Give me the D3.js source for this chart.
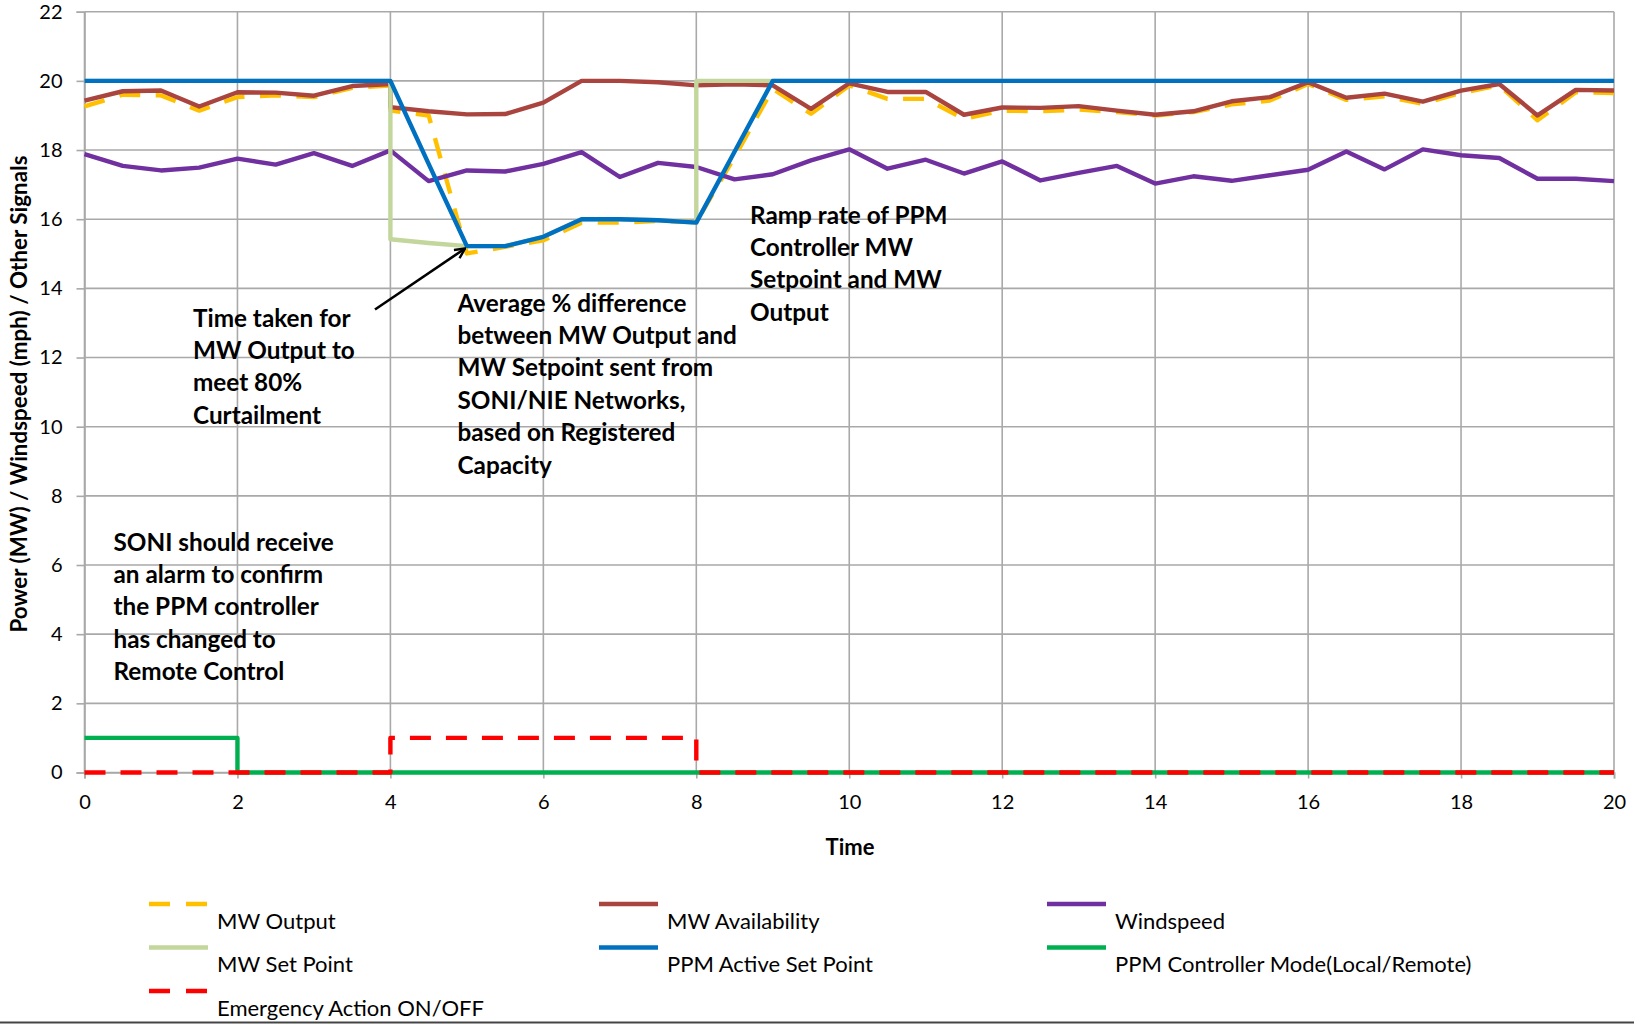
<!DOCTYPE html>
<html>
<head>
<meta charset="utf-8">
<script src="https://cdn.jsdelivr.net/npm/d3@7"></script>
<style>
  html, body { margin: 0; padding: 0; background: #fff; }
  svg { display: block; font-family: Lato, "Open Sans", sans-serif; }
</style>
</head>
<body>
<svg id="chart" width="1634" height="1024"></svg>
<script>
// ---- Data ----
const time = [0, 0.5, 1, 1.5, 2, 2.5, 3, 3.5, 4, 4, 4.5, 5, 5.5, 6, 6.5, 7, 7.5, 8, 8, 8.5, 9, 9.5, 10,
  10.5, 11, 11.5, 12, 12.5, 13, 13.5, 14, 14.5, 15, 15.5, 16, 16.5, 17, 17.5, 18, 18.5, 19, 19.5, 20];

const mwOutput = [19.26, 19.6, 19.58, 19.14, 19.53, 19.58, 19.53, 19.8, 19.87, 19.14, 19.0, 15.01, 15.2, 15.39,
  15.9, 15.9, 15.95, 15.92, 15.92, 17.8, 19.77, 19.05, 19.87, 19.48, 19.48, 18.9, 19.14, 19.12, 19.17,
  19.1, 19.0, 19.1, 19.32, 19.43, 19.91, 19.45, 19.55, 19.34, 19.65, 19.87, 18.86, 19.67, 19.65];

const mwAvailability = [19.43, 19.7, 19.72, 19.26, 19.67, 19.66, 19.57, 19.85, 19.91, 19.24, 19.12, 19.03, 19.04,
  19.37, 20.0, 20.0, 19.96, 19.87, 19.87, 19.9, 19.87, 19.19, 19.93, 19.68, 19.68, 19.02, 19.23, 19.22,
  19.27, 19.14, 19.02, 19.12, 19.41, 19.53, 19.96, 19.51, 19.63, 19.4, 19.72, 19.91, 19.0, 19.74, 19.72];

const windspeed = [17.88, 17.54, 17.41, 17.49, 17.75, 17.58, 17.91, 17.54, 17.99, 17.99, 17.1, 17.41, 17.38,
  17.6, 17.94, 17.22, 17.63, 17.51, 17.51, 17.15, 17.3, 17.7, 18.02, 17.46, 17.72, 17.32, 17.67, 17.12,
  17.34, 17.54, 17.03, 17.24, 17.11, 17.27, 17.43, 17.96, 17.44, 18.02, 17.85, 17.77, 17.17, 17.17, 17.1];

const mwSetPoint = [20, 20, 20, 20, 20, 20, 20, 20, 20, 15.42, 15.31, 15.22, 15.22, 15.49, 16.0, 16.0, 15.97,
  15.9, 20, 20, 20, 20, 20, 20, 20, 20, 20, 20, 20, 20, 20, 20, 20, 20, 20, 20, 20, 20, 20, 20, 20, 20, 20];

const ppmActiveSetPoint = [20, 20, 20, 20, 20, 20, 20, 20, 20, 20, 17.6, 15.22, 15.22, 15.49, 16.0, 16.0, 15.97,
  15.9, 15.9, 17.95, 20, 20, 20, 20, 20, 20, 20, 20, 20, 20, 20, 20, 20, 20, 20, 20, 20, 20, 20, 20, 20, 20, 20];

const modeTime = [0, 2, 2, 20];
const controllerMode = [1, 1, 0, 0];

const emergencyTime = [0, 4, 4, 8, 8, 20];
const emergencyAction = [0, 0, 1, 1, 0, 0];

const xTicks = [0, 2, 4, 6, 8, 10, 12, 14, 16, 18, 20];
const yTicks = [0, 2, 4, 6, 8, 10, 12, 14, 16, 18, 20, 22];

const seriesNames = ["MW Output", "MW Availability", "Windspeed", "MW Set Point",
  "PPM Active Set Point", "PPM Controller Mode(Local/Remote)", "Emergency Action ON/OFF"];

const annotations = [
  { lines: ["Time taken for", "MW Output to", "meet 80%", "Curtailment"], x: 193, y: 318 },
  { lines: ["Average % difference", "between MW Output and", "MW Setpoint sent from", "SONI/NIE Networks,", "based on Registered", "Capacity"], x: 457.5, y: 303 },
  { lines: ["Ramp rate of PPM", "Controller MW", "Setpoint and MW", "Output"], x: 750, y: 215 },
  { lines: ["SONI should receive", "an alarm to confirm", "the PPM controller", "has changed to", "Remote Control"], x: 113.5, y: 542 }
];

// ---- Setup ----
const svg = d3.select("#chart");
const x = d3.scaleLinear().domain([0, 20]).range([84.5, 1614]);
const y = d3.scaleLinear().domain([0, 22]).range([772.5, 11.7]);
const gridColor = "#a9a9a9";

// gridlines
svg.append("g").selectAll("line.h").data(yTicks).join("line")
  .attr("x1", x(0)).attr("x2", x(20)).attr("y1", d => y(d)).attr("y2", d => y(d))
  .attr("stroke", gridColor).attr("stroke-width", 1.6);
svg.append("g").selectAll("line.v").data(xTicks).join("line")
  .attr("y1", y(0)).attr("y2", y(22)).attr("x1", d => x(d)).attr("x2", d => x(d))
  .attr("stroke", gridColor).attr("stroke-width", 1.6);

// axes
const yAxis = svg.append("g").attr("transform", `translate(${x(0)},0)`)
  .call(d3.axisLeft(y).tickValues(yTicks).tickSize(8).tickPadding(14));
const xAxis = svg.append("g").attr("transform", `translate(0,${y(0)})`)
  .call(d3.axisBottom(x).tickValues(xTicks).tickSize(6).tickPadding(16));
[yAxis, xAxis].forEach(a => {
  a.select(".domain").attr("stroke", gridColor).attr("stroke-width", 1.6);
  a.selectAll(".tick line").attr("stroke", gridColor).attr("stroke-width", 1.6);
  a.selectAll(".tick text").attr("fill", "#000").style("font-size", "20px").style("font-family", "Lato, sans-serif");
});

// series
const lineGen = d3.line().x(d => x(d[0])).y(d => y(d[1]));
const zip = (t, v) => t.map((tt, i) => [tt, v[i]]);
const series = [
  { data: zip(time, mwOutput), color: "#FFC000", dash: "21,15.5" },
  { data: zip(time, mwAvailability), color: "#A9443F", dash: null },
  { data: zip(time, windspeed), color: "#7030A0", dash: null },
  { data: zip(time, mwSetPoint), color: "#C3D69B", dash: null },
  { data: zip(time, ppmActiveSetPoint), color: "#0070C0", dash: null },
  { data: zip(modeTime, controllerMode), color: "#00B050", dash: null },
  { data: zip(emergencyTime, emergencyAction), color: "#FF0000", dash: "21,15" }
];
series.forEach(s => {
  svg.append("path").datum(s.data)
    .attr("d", lineGen)
    .attr("fill", "none")
    .attr("stroke", s.color)
    .attr("stroke-width", 4.4)
    .attr("stroke-linejoin", "round")
    .attr("stroke-dasharray", s.dash);
});

// axis titles
svg.append("text").attr("x", 850).attr("y", 847).attr("dy", "0.35em")
  .attr("text-anchor", "middle").style("font-weight", "bold").style("font-size", "22px")
  .text("Time");
svg.append("text").attr("transform", "translate(19,394) rotate(-90)").attr("dy", "0.35em")
  .attr("text-anchor", "middle").style("font-weight", "bold").style("font-size", "22.4px")
  .text("Power (MW) / Windspeed (mph) / Other Signals");

// annotations
annotations.forEach(a => {
  const t = svg.append("text").style("font-weight", "bold").style("font-size", "24.3px");
  a.lines.forEach((l, i) => {
    t.append("tspan").attr("x", a.x).attr("y", a.y + i * 32.4).attr("dy", "0.35em").text(l);
  });
});

// arrow
svg.append("defs").append("marker").attr("id", "arrow")
  .attr("viewBox", "0 0 12 12").attr("refX", 11).attr("refY", 6)
  .attr("markerWidth", 12).attr("markerHeight", 12).attr("markerUnits", "userSpaceOnUse")
  .attr("orient", "auto")
  .append("path").attr("d", "M1,1 L11,6 L1,11").attr("fill", "none").attr("stroke", "#000").attr("stroke-width", 2.4);
svg.append("line").attr("x1", 375).attr("y1", 309.5).attr("x2", 465).attr("y2", 248.5)
  .attr("stroke", "#000").attr("stroke-width", 2.6).attr("marker-end", "url(#arrow)");

// legend
const legendCols = [149, 599, 1047];
const legendRows = [904, 947.5, 991];
seriesNames.forEach((name, i) => {
  const col = i % 3, row = Math.floor(i / 3);
  const lx = legendCols[col], ly = legendRows[row];
  const s = series[i];
  svg.append("line").attr("x1", lx).attr("x2", lx + 59).attr("y1", ly).attr("y2", ly)
    .attr("stroke", s.color).attr("stroke-width", 4.6).attr("stroke-dasharray", s.dash ? "21,16" : null);
  svg.append("text").attr("x", lx + 68).attr("y", ly + 17).attr("dy", "0.35em")
    .style("font-size", "22px").text(name);
});

// bottom border
svg.append("line").attr("x1", 0).attr("x2", 1634).attr("y1", 1022.5).attr("y2", 1022.5)
  .attr("stroke", "#444").attr("stroke-width", 2);
</script>
</body>
</html>
